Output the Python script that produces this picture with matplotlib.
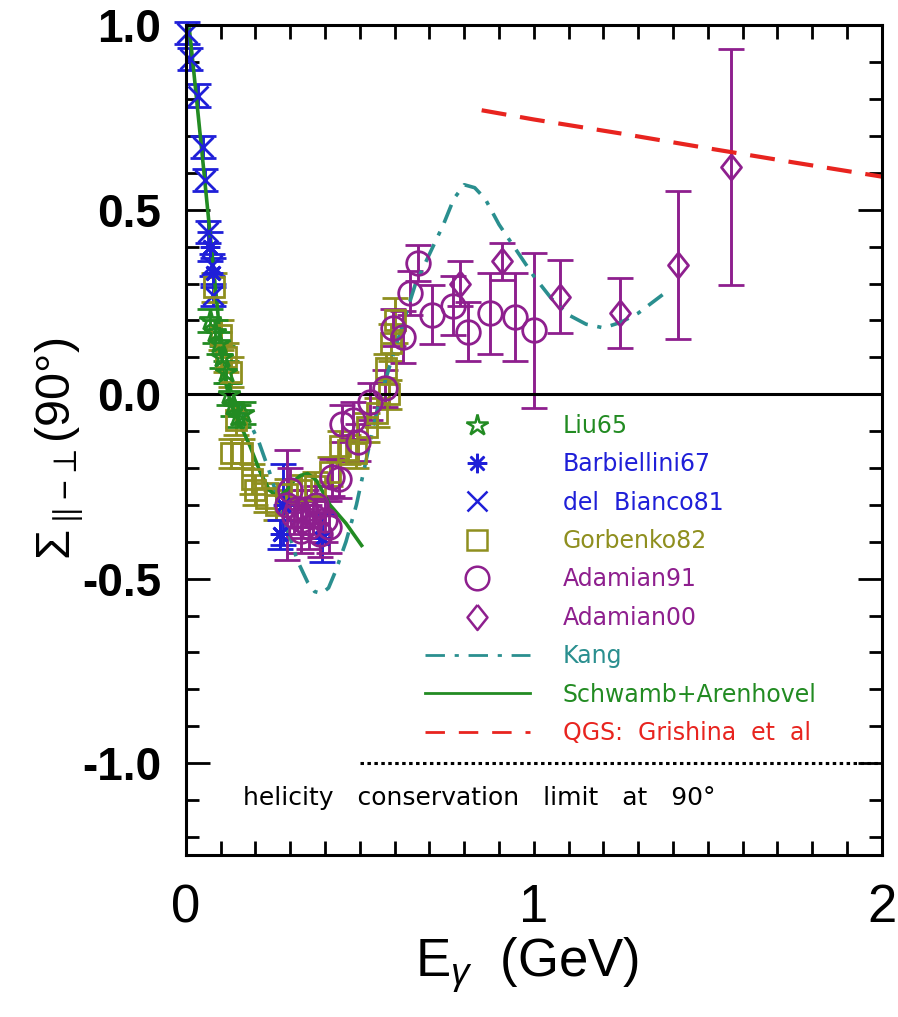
import matplotlib
matplotlib.use("Agg")
import matplotlib.pyplot as plt
from matplotlib.lines import Line2D
from matplotlib.ticker import MultipleLocator, FixedLocator

plt.rcParams["axes.unicode_minus"] = False
plt.rcParams["lines.scale_dashes"] = False
plt.rcParams["mathtext.fontset"] = "custom"
plt.rcParams["mathtext.rm"] = "Liberation Sans"
plt.rcParams["mathtext.it"] = "Liberation Sans:italic"
plt.rcParams["mathtext.bf"] = "Liberation Sans:bold"

# photon beam asymmetry data, E in GeV
liu_x = [0.07, 0.085, 0.095, 0.105, 0.115, 0.125, 0.135, 0.15, 0.165]
liu_y = [0.20, 0.17, 0.14, 0.10, 0.06, 0.0, -0.03, -0.06, -0.05]
liu_e = [0.03, 0.03, 0.03, 0.03, 0.03, 0.03, 0.03, 0.03, 0.03]

barb_x = [0.068, 0.078, 0.27, 0.28, 0.39]
barb_y = [0.40, 0.33, -0.38, -0.30, -0.39]
barb_e = [0.04, 0.04, 0.04, 0.11, 0.065]

bianco_x = [0.003, 0.012, 0.035, 0.05, 0.055, 0.064, 0.074, 0.079]
bianco_y = [0.98, 0.91, 0.81, 0.67, 0.58, 0.44, 0.35, 0.27]
bianco_e = [0.03, 0.03, 0.03, 0.03, 0.03, 0.03, 0.03, 0.03]

gorb_x = [0.08, 0.10, 0.115, 0.13, 0.145, 0.13, 0.16, 0.19, 0.20, 0.23, 0.26, 0.29,
          0.33, 0.37, 0.414, 0.443, 0.465, 0.49, 0.52, 0.55, 0.575, 0.585, 0.59, 0.60]
gorb_y = [0.29, 0.16, 0.10, 0.06, -0.07, -0.16, -0.16, -0.23, -0.26, -0.28, -0.30, -0.27,
          -0.26, -0.25, -0.21, -0.14, -0.15, -0.16, -0.09, -0.05, 0.07, 0.0, 0.14, 0.20]
gorb_e = [0.04, 0.04, 0.04, 0.04, 0.04, 0.04, 0.04, 0.04, 0.04, 0.04, 0.04, 0.04,
          0.04, 0.04, 0.04, 0.04, 0.04, 0.04, 0.04, 0.04, 0.04, 0.04, 0.05, 0.06]

adam91_x = [0.29, 0.30, 0.31, 0.32, 0.33, 0.335, 0.345, 0.355, 0.365, 0.375, 0.385, 0.40,
            0.41, 0.42, 0.44, 0.45, 0.48, 0.495, 0.53, 0.572, 0.595, 0.624, 0.644, 0.667,
            0.707, 0.767, 0.81, 0.874, 0.945, 1.0]
adam91_y = [-0.30, -0.26, -0.33, -0.31, -0.37, -0.34, -0.31, -0.36, -0.33, -0.30, -0.38, -0.34,
            -0.36, -0.225, -0.23, -0.08, -0.07, -0.13, -0.02, 0.016, 0.18, 0.155, 0.274, 0.356,
            0.215, 0.24, 0.17, 0.22, 0.21, 0.174]
adam91_e = [0.15, 0.06, 0.05, 0.05, 0.06, 0.05, 0.05, 0.06, 0.05, 0.05, 0.06, 0.06,
            0.07, 0.05, 0.05, 0.05, 0.05, 0.05, 0.05, 0.05, 0.05, 0.07, 0.06, 0.05,
            0.08, 0.08, 0.08, 0.11, 0.12, 0.21]

adam00_x = [0.787, 0.908, 1.075, 1.247, 1.414, 1.566]
adam00_y = [0.30, 0.36, 0.265, 0.22, 0.35, 0.617]
adam00_e = [0.06, 0.05, 0.10, 0.095, 0.20, 0.32]

# model curves
kang_x = [0.15, 0.18, 0.21, 0.24, 0.28, 0.32, 0.35, 0.37, 0.39, 0.41, 0.43, 0.46, 0.49, 0.52,
          0.555, 0.59, 0.62, 0.66, 0.70, 0.74, 0.77, 0.80, 0.83, 0.86, 0.90, 0.95, 1.00,
          1.05, 1.10, 1.15, 1.20, 1.25, 1.30, 1.37]
kang_y = [-0.03, -0.07, -0.13, -0.21, -0.33, -0.45, -0.51, -0.535, -0.54, -0.525, -0.48, -0.40,
          -0.30, -0.17, -0.02, 0.09, 0.18, 0.30, 0.38, 0.46, 0.53, 0.568, 0.56, 0.53, 0.46,
          0.39, 0.32, 0.26, 0.215, 0.19, 0.18, 0.195, 0.22, 0.27]

schw_x = [0.01, 0.02, 0.05, 0.09, 0.107, 0.13, 0.155, 0.184, 0.213, 0.24, 0.265, 0.29,
          0.31, 0.33, 0.35, 0.376, 0.414, 0.46, 0.505]
schw_y = [0.99, 0.90, 0.62, 0.24, 0.06, -0.03, -0.08, -0.14, -0.21, -0.26, -0.28, -0.26,
          -0.235, -0.22, -0.215, -0.235, -0.30, -0.35, -0.41]

qgs_x = [0.85, 1.0, 1.25, 1.5, 1.75, 2.0]
qgs_y = [0.77, 0.745, 0.707, 0.667, 0.628, 0.59]

limit_x = [0.5, 2.0]
limit_y = [-1.0, -1.0]

purple = "#8E1F8E"
blue = "#1F1FD8"
olive = "#8F8F1F"
green = "#228B22"
teal = "#2A8F8F"
red = "#E8241F"

diamond = [(0, 1), (0.8, 0), (0, -1), (-0.8, 0), (0, 1)]

fig = plt.figure(figsize=(8.98, 10.17), dpi=100)
ax = fig.add_axes([0.207, 0.159, 0.775, 0.816])

eb = dict(ls="none", mfc="none", elinewidth=2.1, capsize=9.5, capthick=2.1,
          mew=2.0, clip_on=False)
ax.errorbar(bianco_x, bianco_y, yerr=bianco_e, marker="x", ms=14, color=blue, **eb)
ax.errorbar(gorb_x, gorb_y, yerr=gorb_e, marker="s", ms=15, color=olive, **eb)
ax.errorbar(liu_x, liu_y, yerr=liu_e, marker="*", ms=16, color=green, **eb)
ax.errorbar(barb_x, barb_y, yerr=barb_e, marker=(8, 2, 0), ms=14, color=blue, **eb)
ax.errorbar(adam91_x, adam91_y, yerr=adam91_e, marker="o", ms=17, color=purple, **eb)
ax.errorbar(adam00_x, adam00_y, yerr=adam00_e, marker=diamond, ms=18, color=purple, **eb)

ax.plot(kang_x, kang_y, color=teal, lw=2.6, dashes=(14, 7, 3, 7))
ax.plot(schw_x, schw_y, color=green, lw=2.6)
ax.plot(qgs_x, qgs_y, color=red, lw=3.0, dashes=(18, 10))
ax.plot(limit_x, limit_y, color="k", lw=2.2, dashes=(2.5, 2.5))
ax.axhline(0, color="k", lw=2.2)

ax.text(0.164, -1.095, "helicity   conservation   limit   at   90°", fontsize=18,
        va="center", ha="left")

ax.set_xlim(0, 2)
ax.set_ylim(-1.25, 1.0)
ax.xaxis.set_major_locator(FixedLocator([0, 1, 2]))
ax.xaxis.set_minor_locator(MultipleLocator(0.1))
ax.yaxis.set_major_locator(FixedLocator([-1.0, -0.5, 0.0, 0.5, 1.0]))
ax.yaxis.set_minor_locator(MultipleLocator(0.1))
ax.set_xticklabels(["0", "1", "2"])
ax.set_yticklabels(["-1.0", "-0.5", "0.0", "0.5", "1.0"])
ax.tick_params(which="both", direction="in", top=True, right=True, width=2.0)
ax.tick_params(axis="x", which="both", length=10, pad=20)
ax.tick_params(axis="y", which="major", length=17, pad=18)
ax.tick_params(axis="y", which="minor", length=9.5)
for lab in ax.get_xticklabels():
    lab.set_fontfamily("Liberation Sans")
    lab.set_fontsize(38)
for lab in ax.get_yticklabels():
    lab.set_fontfamily("Liberation Sans")
    lab.set_fontweight("bold")
    lab.set_fontsize(33)
for sp in ax.spines.values():
    sp.set_linewidth(2.2)

ax.set_xlabel(r"E$_{\gamma}$  (GeV)", fontsize=38, family="Liberation Sans")
ax.xaxis.set_label_coords(0.49, -0.097)
ax.xaxis.label.set_va("top")
ax.set_ylabel(r"$\Sigma_{\parallel\!-\!\perp}$(90°)", fontsize=35, family="Liberation Sans")
ax.yaxis.set_label_coords(-0.145, 0.49)

handles = [
    Line2D([], [], ls="none", marker="*", ms=16, mfc="none", mec=green, mew=1.8),
    Line2D([], [], ls="none", marker=(8, 2, 0), ms=14, mec=blue, mew=1.8),
    Line2D([], [], ls="none", marker="x", ms=15, mec=blue, mew=1.8),
    Line2D([], [], ls="none", marker="s", ms=15, mfc="none", mec=olive, mew=1.8),
    Line2D([], [], ls="none", marker="o", ms=17, mfc="none", mec=purple, mew=1.8),
    Line2D([], [], ls="none", marker=diamond, ms=18, mfc="none", mec=purple, mew=1.8),
    Line2D([], [], color=teal, lw=2.0, dashes=(14, 7, 3, 7)),
    Line2D([], [], color=green, lw=2.0),
    Line2D([], [], color=red, lw=2.0, dashes=(14, 10)),
]
labels = ["Liu65", "Barbiellini67", "del  Bianco81", "Gorbenko82", "Adamian91",
          "Adamian00", "Kang", "Schwamb+Arenhovel", "QGS:  Grishina  et  al"]
label_colors = [green, blue, blue, olive, purple, purple, teal, green, red]
leg = ax.legend(handles, labels, loc="upper left", bbox_to_anchor=(0.343, 0.532),
                frameon=False, fontsize=17, handlelength=4.45, handletextpad=1.4,
                labelspacing=0.61, borderpad=0, borderaxespad=0)
for t, c in zip(leg.get_texts(), label_colors):
    t.set_color(c)

fig.savefig("out.png", dpi=100)
